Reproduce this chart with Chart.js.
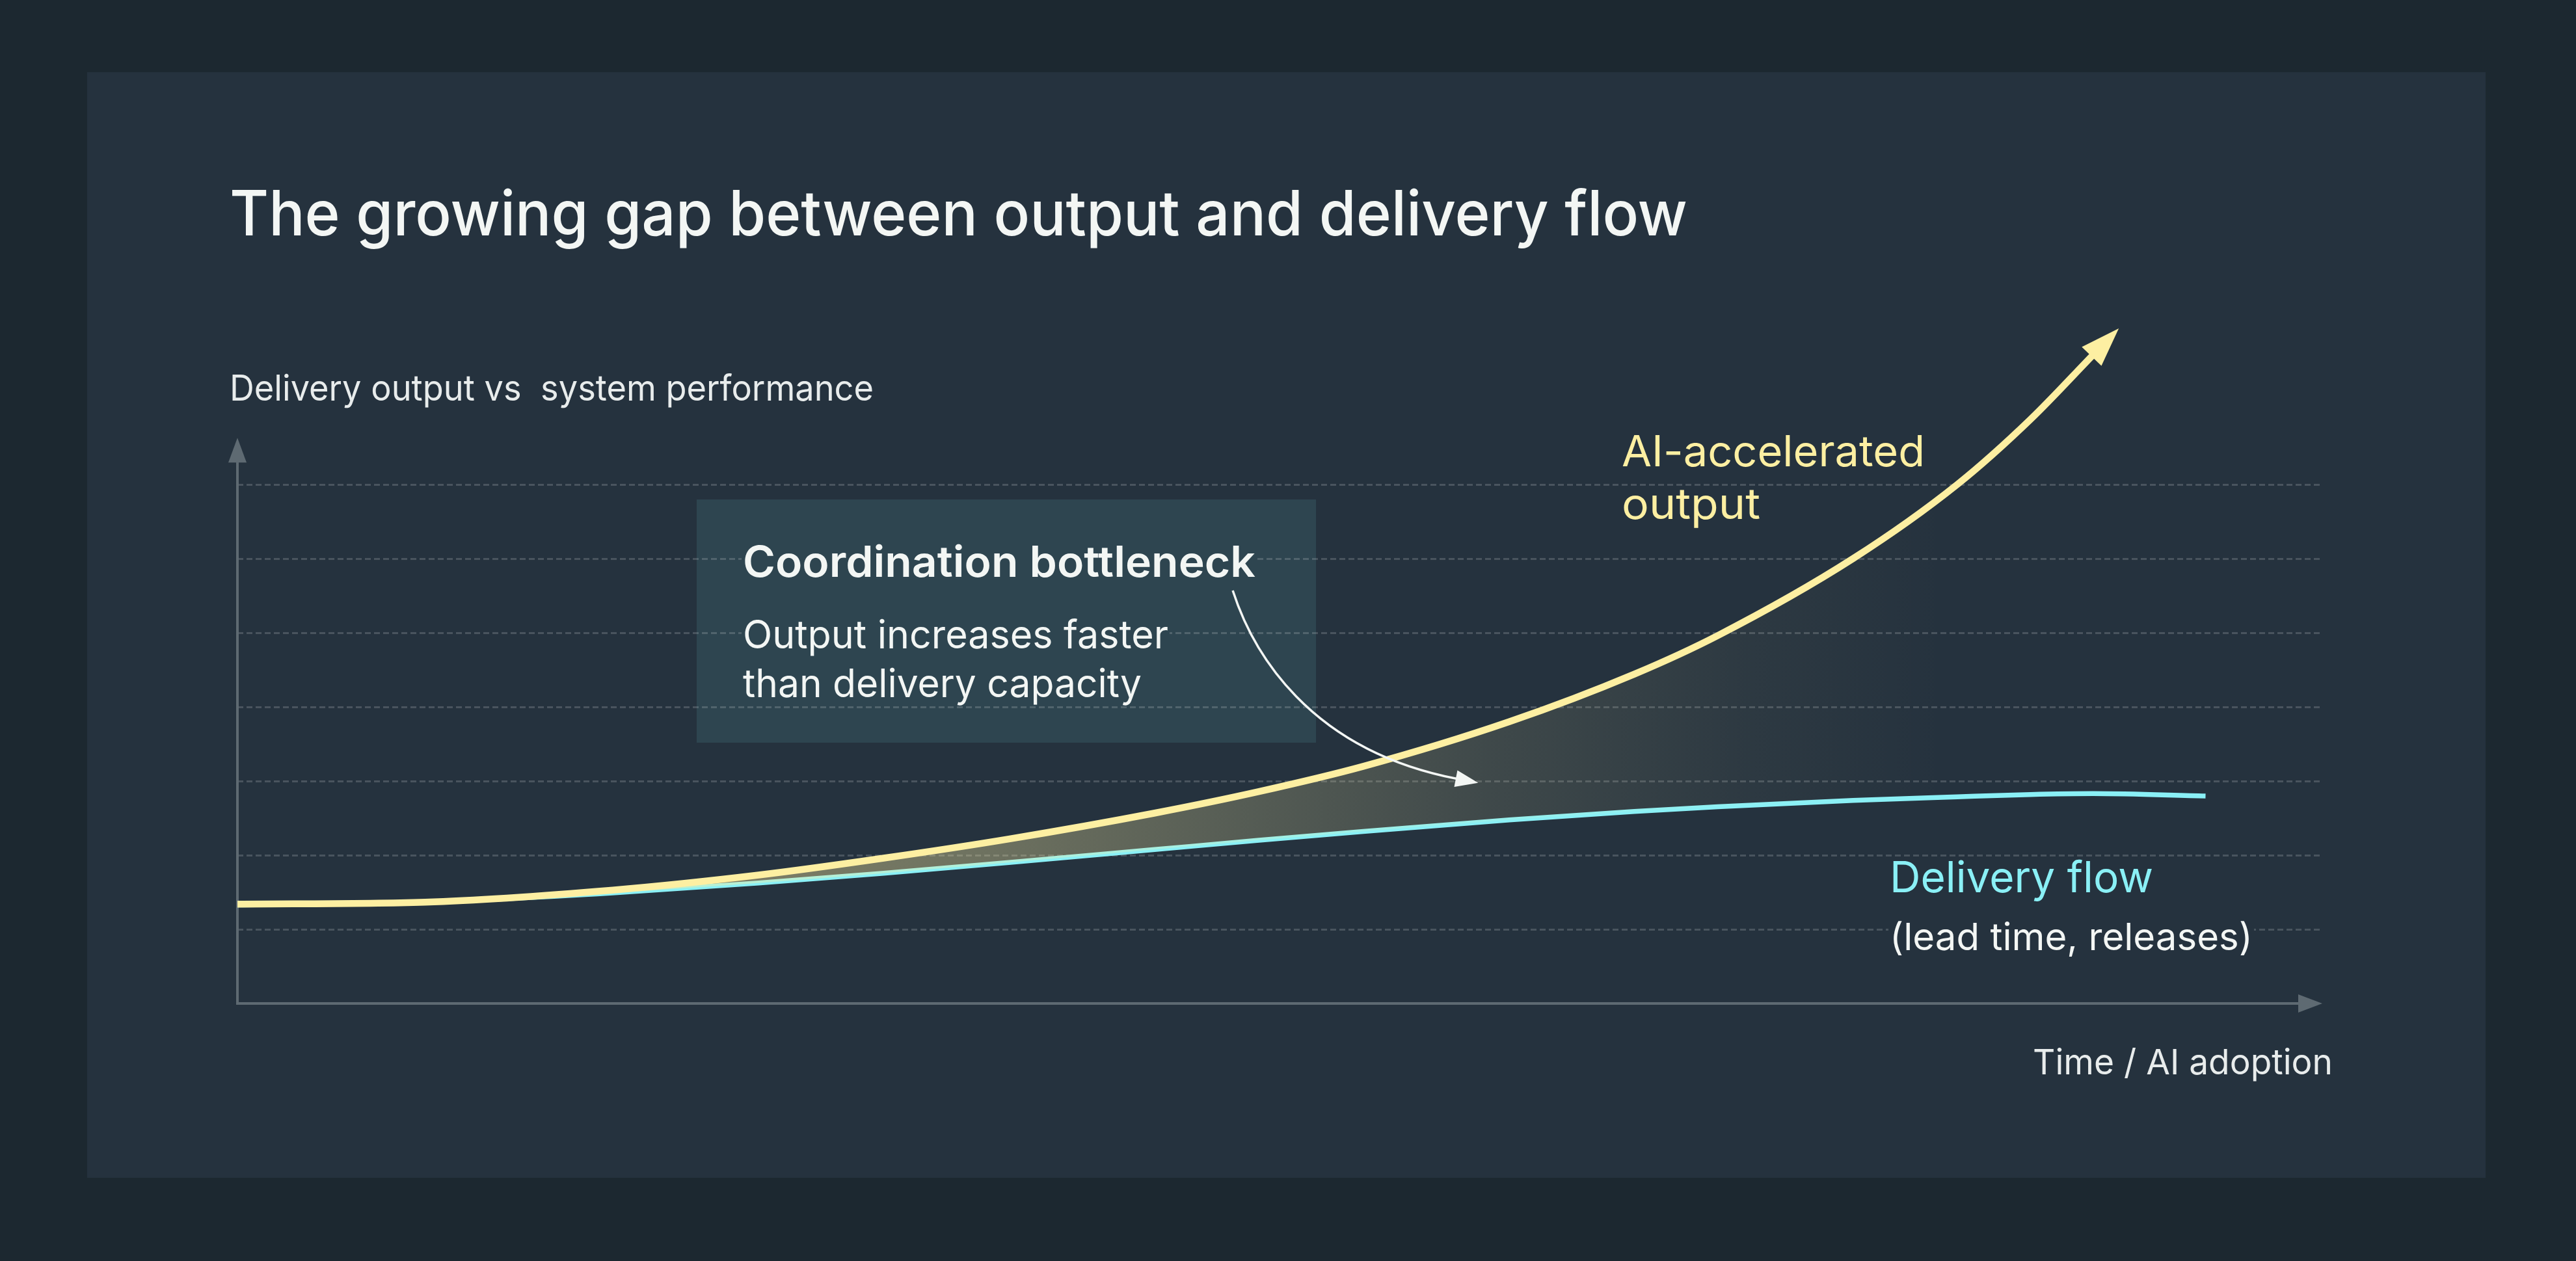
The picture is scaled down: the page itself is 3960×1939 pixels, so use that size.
<!DOCTYPE html>
<html><head><meta charset="utf-8">
<script src="https://cdn.jsdelivr.net/npm/chart.js@4.4.1/dist/chart.umd.min.js"></script>
<style>html,body{margin:0;padding:0;background:#1c2830;overflow:hidden}canvas{display:block}</style>
</head><body>
<canvas id="c" width="3960" height="1939" style="width:3960px;height:1939px"></canvas>
<script>
// ---- data ----
const titleText = "The growing gap between output and delivery flow";
const yAxisLabel = "Delivery output vs  system performance";
const xAxisLabel = "Time / AI adoption";
const outputLabel = ["AI-accelerated", "output"];
const flowLabel = ["Delivery flow", "(lead time, releases)"];
const boxTitle = "Coordination bottleneck";
const boxBody = ["Output increases faster", "than delivery capacity"];
const timeX = [0, 9, 18, 25, 31, 37, 44, 49, 54, 61, 67, 71, 77.5, 82.5, 86, 89, 94.4];
const outputValues = [1.34, 1.367, 1.529, 1.732, 1.96, 2.218, 2.568, 2.858, 3.198, 3.80, 4.442, 4.962, 6.002, 7.002, 7.877, 8.747];
const flowValues = [1.33, 1.366, 1.492, 1.625, 1.757, 1.901, 2.076, 2.201, 2.321, 2.475, 2.589, 2.653, 2.738, 2.788, 2.819, 2.831, 2.799];
const gridValues = [1, 2, 3, 4, 5, 6, 7];

// ---- style ----
const C = {
  outer: '#1c2830', panel: '#25323e', box: '#2e4550', axis: '#5e6a72',
  grid: 'rgba(255,255,255,0.17)', yellow: '#FDEFA2', cyan: '#8AF0F6', white: '#F3F6F4'
};
const FONT = 'Inter, "Noto Sans", sans-serif';

function txt(ctx, s, x, y, size, weight, color, w) {
  ctx.save();
  ctx.font = weight + ' ' + size + 'px ' + FONT;
  const m = ctx.measureText(s).width;
  ctx.translate(x, y);
  if (w) ctx.scale(w / m, 1);
  ctx.fillStyle = color;
  ctx.textBaseline = 'alphabetic';
  ctx.textAlign = 'left';
  ctx.fillText(s, 0, 0);
  ctx.restore();
}

const deco = {
  id: 'deco',
  beforeDraw(chart) {
    const ctx = chart.ctx;
    ctx.save();
    ctx.fillStyle = C.outer; ctx.fillRect(0, 0, chart.width, chart.height);
    ctx.fillStyle = C.panel; ctx.fillRect(134, 111, 3687, 1700);
    ctx.fillStyle = C.box; ctx.fillRect(1071, 768, 952, 374);
    ctx.restore();
  },
  beforeDatasetsDraw(chart) {
    const ctx = chart.ctx, xs = chart.scales.x, ys = chart.scales.y;
    const x0 = xs.getPixelForValue(0), y0 = ys.getPixelForValue(0);
    const xEnd = xs.getPixelForValue(100), yTop = ys.getPixelForValue(7.63);
    ctx.save();
    ctx.strokeStyle = C.axis; ctx.fillStyle = C.axis; ctx.lineWidth = 4;
    ctx.beginPath(); ctx.moveTo(x0, y0); ctx.lineTo(xEnd - 30, y0); ctx.stroke();
    ctx.beginPath(); ctx.moveTo(x0, y0 + 2); ctx.lineTo(x0, yTop + 30); ctx.stroke();
    ctx.beginPath(); ctx.moveTo(xEnd, y0); ctx.lineTo(xEnd - 37, y0 - 14); ctx.lineTo(xEnd - 37, y0 + 14); ctx.closePath(); ctx.fill();
    ctx.beginPath(); ctx.moveTo(x0, yTop); ctx.lineTo(x0 - 14, yTop + 38); ctx.lineTo(x0 + 14, yTop + 38); ctx.closePath(); ctx.fill();
    ctx.restore();
  },
  afterDatasetsDraw(chart) {
    const ctx = chart.ctx, xs = chart.scales.x, ys = chart.scales.y;
    // arrowhead on output line
    const pts = chart.getDatasetMeta(0).data;
    const last = pts[pts.length - 1];
    let px = last.cp1x, py = last.cp1y;
    if (px === undefined) { px = pts[pts.length - 2].x; py = pts[pts.length - 2].y; }
    let dx = last.x - px, dy = last.y - py; const L = Math.hypot(dx, dy); dx /= L; dy /= L;
    ctx.save();
    ctx.fillStyle = C.yellow;
    const bx = last.x - dx * 3, by = last.y - dy * 3;
    ctx.beginPath();
    ctx.moveTo(last.x + dx * 57, last.y + dy * 57);
    ctx.lineTo(bx - dy * 21, by + dx * 21);
    ctx.lineTo(bx + dy * 21, by - dx * 21);
    ctx.closePath(); ctx.fill();
    // annotation arrow (data coords)
    const P = (a, b) => [xs.getPixelForValue(a), ys.getPixelForValue(b)];
    const p0 = P(47.74, 5.57), c1 = P(48.67, 4.76), c2 = P(51.33, 3.42), p3 = P(58.5, 3.03);
    ctx.strokeStyle = C.white; ctx.fillStyle = C.white; ctx.lineWidth = 3.5;
    ctx.beginPath(); ctx.moveTo(p0[0], p0[1]); ctx.bezierCurveTo(c1[0], c1[1], c2[0], c2[1], p3[0], p3[1]); ctx.stroke();
    let ux = p3[0] - c2[0], uy = p3[1] - c2[1]; const U = Math.hypot(ux, uy); ux /= U; uy /= U;
    const qx = p3[0] - ux * 2, qy = p3[1] - uy * 2;
    ctx.beginPath();
    ctx.moveTo(p3[0] + ux * 33, p3[1] + uy * 33);
    ctx.lineTo(qx - uy * 13, qy + ux * 13);
    ctx.lineTo(qx + uy * 13, qy - ux * 13);
    ctx.closePath(); ctx.fill();
    ctx.restore();
  },
  afterDraw(chart) {
    const ctx = chart.ctx;
    ctx.save();
    // masks behind text lines that sit on grid lines
    ctx.fillStyle = C.box;
    ctx.fillRect(1140, 828, 792, 74);
    ctx.fillRect(1140, 944, 658, 70);
    ctx.fillStyle = C.panel;
    ctx.fillRect(2903, 1404, 562, 72);
    ctx.restore();
    txt(ctx, titleText, 353, 362, 96, 500, C.white, 2241);
    txt(ctx, yAxisLabel, 353, 616, 55, 400, '#E8ECEC', 990);
    txt(ctx, boxTitle, 1142, 887, 66, 600, C.white, 788);
    txt(ctx, boxBody[0], 1142, 997, 60, 400, C.white, 654);
    txt(ctx, boxBody[1], 1142, 1072, 60, 400, C.white, 613);
    txt(ctx, outputLabel[0], 2493, 717, 66, 400, C.yellow, 466);
    txt(ctx, outputLabel[1], 2493, 798, 66, 400, C.yellow, 213);
    txt(ctx, flowLabel[0], 2905, 1372, 66, 400, C.cyan, 405);
    txt(ctx, flowLabel[1], 2905, 1461, 58, 400, C.white, 558);
    txt(ctx, xAxisLabel, 3125, 1652, 54, 400, '#E8ECEC', 461);
  }
};

function fillGradient(c) {
  const chart = c.chart; const area = chart.chartArea;
  if (!area) return 'rgba(0,0,0,0)';
  const xs = chart.scales.x;
  const g = chart.ctx.createLinearGradient(xs.getPixelForValue(0), 0, xs.getPixelForValue(82), 0);
  g.addColorStop(0.00, 'rgba(253,239,162,0.46)');
  g.addColorStop(0.25, 'rgba(253,239,162,0.42)');
  g.addColorStop(0.43, 'rgba(253,239,162,0.34)');
  g.addColorStop(0.58, 'rgba(253,239,162,0.23)');
  g.addColorStop(0.73, 'rgba(253,239,162,0.12)');
  g.addColorStop(0.88, 'rgba(253,239,162,0.04)');
  g.addColorStop(1.00, 'rgba(253,239,162,0)');
  return g;
}

function build() {
  new Chart(document.getElementById('c'), {
    type: 'line',
    data: {
      datasets: [
        {
          label: outputLabel.join(' '),
          data: outputValues.map((v, i) => ({ x: timeX[i], y: v })),
          borderColor: C.yellow, borderWidth: 10.5, pointRadius: 0,
          cubicInterpolationMode: 'monotone',
          fill: { target: 1 }, backgroundColor: fillGradient,
          borderCapStyle: 'butt', clip: false
        },
        {
          label: flowLabel[0],
          data: flowValues.map((v, i) => ({ x: timeX[i], y: v })),
          borderColor: C.cyan, borderWidth: 7.5, pointRadius: 0,
          cubicInterpolationMode: 'monotone', fill: false,
          borderCapStyle: 'butt', clip: false
        }
      ]
    },
    options: {
      responsive: false, devicePixelRatio: 1, animation: false, events: [],
      layout: { padding: { left: 365, right: 390, top: 448.6, bottom: 396 } },
      plugins: { legend: { display: false }, tooltip: { enabled: false }, title: { display: false } },
      scales: {
        x: { type: 'linear', min: 0, max: 100, display: false },
        y: {
          type: 'linear', min: 0, max: 9.6,
          afterFit(s) { s.width = 0; },
          afterBuildTicks(s) { s.ticks = gridValues.map(v => ({ value: v })); },
          ticks: { display: false },
          border: { display: false, dash: [9, 5] },
          grid: { color: C.grid, lineWidth: 3, drawTicks: false }
        }
      }
    },
    plugins: [deco]
  });
}
const fl = document.fonts ? Promise.all([
  document.fonts.load('500 96px Inter'), document.fonts.load('400 60px Inter'), document.fonts.load('600 66px Inter')
]).catch(() => {}) : Promise.resolve();
fl.then(build, build);
</script>
</body></html>
